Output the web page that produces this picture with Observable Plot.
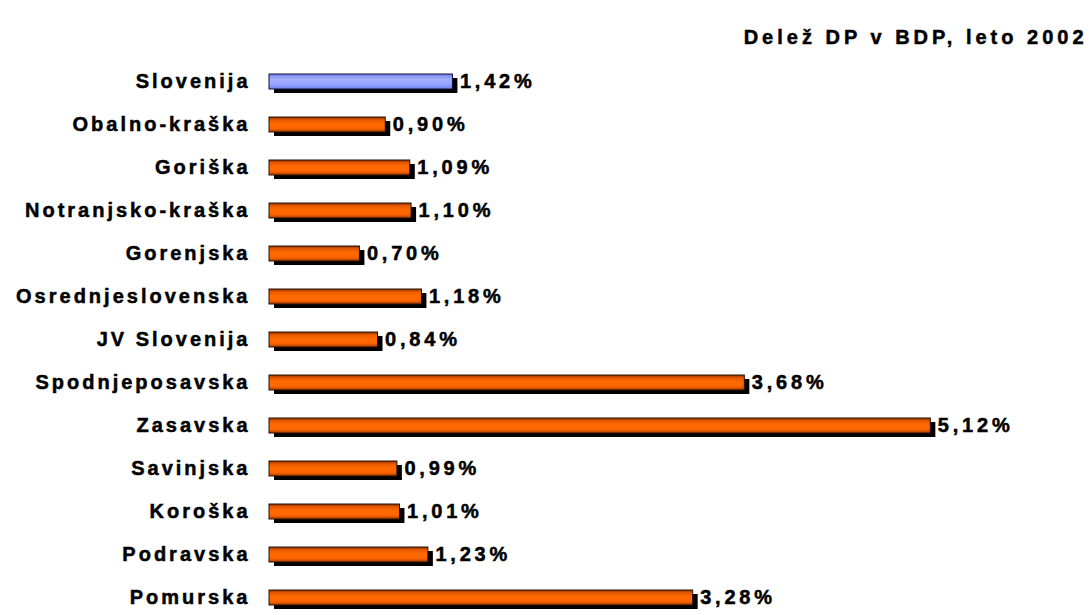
<!DOCTYPE html>
<html><head><meta charset="utf-8">
<script src="https://cdn.jsdelivr.net/npm/d3@7"></script>
<script src="https://cdn.jsdelivr.net/npm/@observablehq/plot@0.6"></script>
<style>
body{margin:0;background:#fff}
svg text{font-family:"Liberation Sans",Arial,sans-serif;font-weight:700;stroke:#000;stroke-width:0.5px}
.lbl text{letter-spacing:3px}
.val text{letter-spacing:3.8px}
.ttl text{letter-spacing:4px}
</style>
</head><body><div id="chart"></div>
<script>
const regions = ["Slovenija","Obalno-kraška","Goriška","Notranjsko-kraška","Gorenjska","Osrednjeslovenska","JV Slovenija","Spodnjeposavska","Zasavska","Savinjska","Koroška","Podravska","Pomurska"];
const values = [1.42,0.90,1.09,1.10,0.70,1.18,0.84,3.68,5.12,0.99,1.01,1.23,3.28];
const highlight = "Slovenija";
const title = "Delež DP v BDP, leto 2002";

const data = regions.map((r, i) => ({region: r, value: values[i]}));
const fmt = v => d3.format(".2f")(v).replace(".", ",") + "%";

const plot = Plot.plot({
  width: 1089, height: 615,
  marginLeft: 269, marginRight: 45, marginTop: 69.5, marginBottom: 5.5,
  style: {fontSize: "20px", color: "#000", background: "#fff"},
  x: {domain: [0, 6], axis: null},
  y: {domain: regions, paddingInner: 0.64, paddingOuter: 0, label: null},
  marks: [
    Plot.axisY({tickSize: 0, tickPadding: 19, fontSize: 20, label: null, className: "lbl"}),
    Plot.barX(data, {x: "value", y: "region", fill: "#000", dx: 5, dy: 4}),
    Plot.barX(data.filter(d => d.region !== highlight), {x: "value", y: "region", fill: "url(#gOrange)", stroke: "#2a1000", strokeWidth: 1}),
    Plot.barX(data.filter(d => d.region === highlight), {x: "value", y: "region", fill: "url(#gBlue)", stroke: "#111133", strokeWidth: 1}),
    Plot.text(data, {x: "value", y: "region", text: d => fmt(d.value), dx: 7, textAnchor: "start", fontSize: 20, className: "val"}),
    Plot.text([title], {frameAnchor: "top-right", dx: 43, dy: -40, textAnchor: "end", fontSize: 20, className: "ttl"})
  ]
});

const svg = d3.select(plot);
const defs = svg.insert("defs", ":first-child");
const go = defs.append("linearGradient").attr("id", "gOrange").attr("x1", 0).attr("y1", 0).attr("x2", 0).attr("y2", 1);
[["0%", "#8a2f00"], ["20%", "#e85a00"], ["45%", "#ff6a00"], ["75%", "#ff6600"], ["100%", "#a83e00"]].forEach(([o, c]) => go.append("stop").attr("offset", o).attr("stop-color", c));
const gb = defs.append("linearGradient").attr("id", "gBlue").attr("x1", 0).attr("y1", 0).attr("x2", 0).attr("y2", 1);
[["0%", "#6f7fee"], ["35%", "#a5b0ff"], ["70%", "#95a3ff"], ["100%", "#7080f0"]].forEach(([o, c]) => gb.append("stop").attr("offset", o).attr("stop-color", c));

document.getElementById("chart").appendChild(plot);
</script>
</body></html>
